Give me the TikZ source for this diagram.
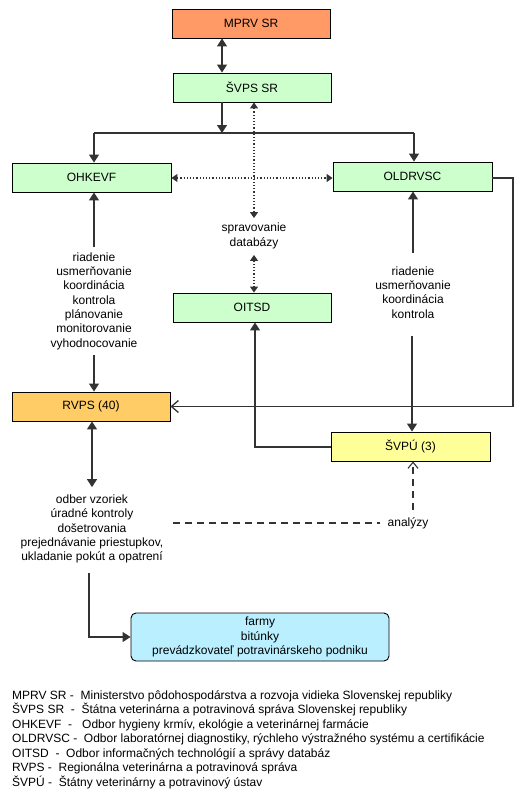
\documentclass[tikz,border=0pt]{standalone}
\usepackage{fontspec}
\setmainfont{Liberation Sans}
\usetikzlibrary{arrows.meta}
\definecolor{cOrange}{HTML}{FF9966}
\definecolor{cGreen}{HTML}{CCFFCC}
\definecolor{cGold}{HTML}{FFCC66}
\definecolor{cYellow}{HTML}{FFFF99}
\definecolor{cCyan}{HTML}{BAEFFF}
\definecolor{cLine}{HTML}{333333}
\begin{document}
\begin{tikzpicture}[x=1pt,y=-1pt,
  every node/.style={font=\fontsize{12}{14.3}\selectfont},
  box/.style={draw=black,line width=0.9pt,minimum width=158pt,minimum height=29pt,inner sep=0pt},
  txt/.style={align=center,inner sep=0pt},
  conn/.style={draw=cLine,line width=1.3pt},
  arr/.style={conn,-{Triangle[length=8pt,width=10pt]}},
  darr/.style={conn,{Triangle[length=8pt,width=10pt]}-{Triangle[length=8pt,width=10pt]}},
  dotarr/.style={draw=cLine,line width=1.2pt,dotted,{Triangle[length=6pt,width=8pt]}-{Triangle[length=6pt,width=8pt]}},
  openarr/.style={conn,-{Straight Barb[length=7pt,width=12pt,line width=1.3pt]}},
  dasharr/.style={draw=cLine,line width=1.3pt,dash pattern=on 7pt off 5pt,-{Straight Barb[length=6pt,width=10pt,line width=1.1pt]}}
]
\useasboundingbox (0,0) rectangle (524,800);

% boxes
\node[box,fill=cOrange] (mprv) at (251,23.5) {MPRV SR};
\node[box,fill=cGreen] (svps) at (252,87.5) {ŠVPS SR};
\node[box,fill=cGreen,minimum width=159pt] (ohkevf) at (91.5,177.5) {OHKEVF};
\node[box,fill=cGreen,minimum width=159pt] (oldrvsc) at (412.5,176.5) {OLDRVSC};
\node[box,fill=cGreen] (oitsd) at (252,307.5) {OITSD};
\node[box,fill=cGold] (rvps) at (91,406.5) {RVPS (40)};
\node[box,fill=cYellow,minimum width=159pt] (svpu) at (410.5,446.5) {ŠVPÚ (3)};
\node[box,fill=cCyan,rounded corners=5pt,minimum width=258pt,minimum height=48pt,align=center] (farmy) at (260,637)
  {farmy\\bitúnky\\prevádzkovateľ potravinárskeho podniku};

% text labels
\node[txt] (t1) at (94,301) {riadenie\\usmerňovanie\\koordinácia\\kontrola\\plánovanie\\monitorovanie\\vyhodnocovanie};
\node[txt] (t2) at (413,292.5) {riadenie\\usmerňovanie\\koordinácia\\kontrola};
\node[txt] (sp) at (254,236) {spravovanie\\databázy};
\node[txt] (t3) at (92,529) {odber vzoriek\\úradné kontroly\\došetrovania\\prejednávanie priestupkov,\\ukladanie pokút a opatrení};
\node[txt] (an) at (408,523) {analýzy};

% connectors
\coordinate (j) at (222,133);
\draw[darr] ([xshift=-29pt]mprv.south) -- ([xshift=-30pt]svps.north);
\draw[arr] ([xshift=-30pt]svps.south) -- (j);
\draw[conn] ([xshift=2.5pt]ohkevf.north |- j) -- ([xshift=1.5pt]oldrvsc.north |- j);
\draw[arr] ([xshift=2.5pt]ohkevf.north |- j) -- ([xshift=2.5pt]ohkevf.north);
\draw[arr] ([xshift=1.5pt]oldrvsc.north |- j) -- ([xshift=1.5pt]oldrvsc.north);

\draw[dotarr] (ohkevf.east |- 0,178) -- (oldrvsc.west |- 0,178);
\draw[dotarr,shorten >=5pt] ([xshift=2pt]svps.south) -- (sp.north);
\draw[dotarr,shorten <=6pt] (sp.south) -- ([xshift=2pt]oitsd.north);

\draw[arr,shorten <=5pt] (t1.north) -- ([xshift=2.5pt]ohkevf.south);
\draw[arr,shorten <=5.5pt] (t1.south) -- ([xshift=3pt]rvps.north);

\draw[arr,shorten <=13pt] (t2.north) -- ([xshift=0.5pt]oldrvsc.south);
\draw[arr,shorten <=17pt] ([xshift=-1pt]t2.south) -- ([xshift=1.5pt]svpu.north);

\draw[openarr] (oldrvsc.east |- 0,178) -- (513,178) |- (rvps.east);
\draw[arr] (svpu.west |- 0,447) -| ([xshift=3pt]oitsd.south);

\draw[darr,shorten >=7.5pt] ([xshift=1pt]rvps.south) -- (t3.north);
\draw[arr,shorten <=9.5pt] ([xshift=-3pt]t3.south) |- (farmy.west);

\coordinate (dl) at (173,523);
\draw[draw=cLine,line width=1.3pt,dash pattern=on 7pt off 5pt] (dl) -- ([xshift=-7pt]an.west);
\draw[dasharr,shorten <=7pt] ([xshift=5pt]an.north) -- ([xshift=2.5pt]svpu.south);

% legend
\node[anchor=base west,align=left,inner sep=0pt,font=\fontsize{12}{14.5}\selectfont] (legend) at (12,786)
 {MPRV SR -\ \ Ministerstvo pôdohospodárstva a rozvoja vidieka Slovenskej republiky\\
  ŠVPS SR\ \ -\ \ Štátna veterinárna a potravinová správa Slovenskej republiky\\
  OHKEVF\ \ -\ \ \ Odbor hygieny krmív, ekológie a veterinárnej farmácie\\
  OLDRVSC -\ \ Odbor laboratórnej diagnostiky, rýchleho výstražného systému a certifikácie\\
  OITSD\ \ -\ \ Odbor informačných technológií a správy databáz\\
  RVPS -\ \ Regionálna veterinárna a potravinová správa\\
  ŠVPÚ -\ \ Štátny veterinárny a potravinový ústav};
\end{tikzpicture}
\end{document}
